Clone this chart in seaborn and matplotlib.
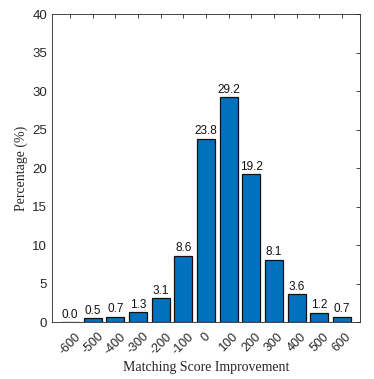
import matplotlib
matplotlib.use('Agg')
import matplotlib.pyplot as plt
import seaborn as sns

score_bins = ['-600', '-500', '-400', '-300', '-200', '-100', '0',
              '100', '200', '300', '400', '500', '600']
percentages = [0.0, 0.5, 0.7, 1.3, 3.1, 8.6, 23.8, 29.2, 19.2, 8.1, 3.6, 1.2, 0.7]

sns.set_style('white')
plt.rcParams['font.family'] = ['Liberation Sans', 'DejaVu Sans']

fig = plt.figure(figsize=(3.74, 3.79), dpi=100)
ax = fig.add_axes([0.139, 0.150, 0.824, 0.813])

sns.barplot(x=score_bins, y=percentages, order=score_bins, color='#0072BD',
            saturation=1, edgecolor='#111111', linewidth=0.9, width=0.8, ax=ax)

for i, v in enumerate(percentages):
    ax.text(i, v + 0.2, f'{v:.1f}', ha='center', va='bottom', fontsize=8.5,
            color='#111111')

ax.set_xlim(-0.8, 12.8)
ax.set_ylim(0, 40)
ax.set_yticks(range(0, 41, 5))
ax.set_xticks(range(len(score_bins)))
ax.set_xticklabels(score_bins, rotation=45, ha='center', va='top',
                   fontsize=9, color='#262626')
ax.tick_params(axis='y', labelsize=9.5, colors='#262626')
ax.tick_params(direction='in', top=True, right=True, length=3, width=0.6,
               color='#262626')
ax.tick_params(axis='x', pad=6)
for s in ax.spines.values():
    s.set_visible(True)
    s.set_color('#262626')
    s.set_linewidth(0.6)

ax.set_xlabel('Matching Score Improvement', family='Liberation Serif',
              fontsize=10, color='#262626', labelpad=3)
ax.set_ylabel('Percentage (%)', family='Liberation Serif', fontsize=10,
              color='#262626', labelpad=3)

fig.savefig('out.png', dpi=100)
